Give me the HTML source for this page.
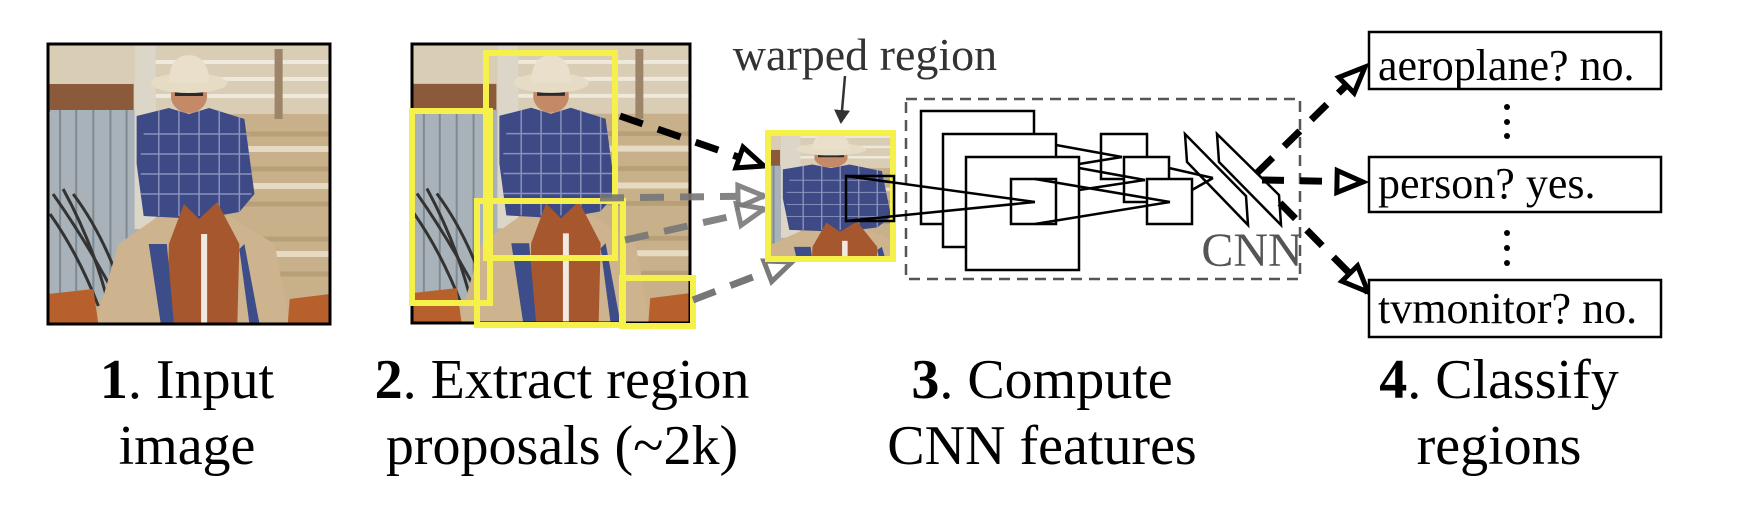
<!DOCTYPE html>
<html><head><meta charset="utf-8"><style>
html,body{margin:0;padding:0;background:#fff;}
body{position:relative;width:1754px;height:506px;overflow:hidden;}
svg{display:block;position:absolute;left:0;top:0;}
svg text{font-family:"Liberation Serif","Times New Roman",Times,serif;}
.cap{position:absolute;font-family:"Liberation Serif","Times New Roman",Times,serif;font-size:56px;line-height:66px;color:#000;text-align:center;white-space:nowrap;width:500px;}
.cap b{font-weight:bold;}
</style></head><body>
<svg width="1754" height="506" viewBox="0 0 1754 506" xmlns="http://www.w3.org/2000/svg">
<defs>
<symbol id="photo" viewBox="0 0 280 280" preserveAspectRatio="none">
  <rect x="0" y="0" width="280" height="280" fill="#c8b08a"/>
  <rect x="0" y="0" width="280" height="70" fill="#d9cdb5"/>
  <g stroke="#efe9dc" stroke-width="4"><line x1="100" y1="18" x2="280" y2="18"/><line x1="100" y1="35" x2="280" y2="35"/><line x1="100" y1="52" x2="280" y2="52"/></g>
  <g stroke="#b79f78" stroke-width="5"><line x1="180" y1="90" x2="280" y2="90"/><line x1="180" y1="125" x2="280" y2="125"/><line x1="190" y1="160" x2="280" y2="160"/><line x1="200" y1="195" x2="280" y2="195"/><line x1="210" y1="230" x2="280" y2="230"/></g>
  <g stroke="#e6dac3" stroke-width="6"><line x1="180" y1="105" x2="280" y2="105"/><line x1="190" y1="142" x2="280" y2="142"/><line x1="200" y1="210" x2="280" y2="210"/></g>
  <rect x="225" y="5" width="8" height="70" fill="#9c8568"/>
  <rect x="0" y="40" width="85" height="28" fill="#8a5a3a"/>
  <rect x="2" y="66" width="85" height="190" fill="#a8b2b8"/>
  <g stroke="#7f8a92" stroke-width="2"><line x1="12" y1="66" x2="12" y2="256"/><line x1="28" y1="66" x2="28" y2="256"/><line x1="45" y1="66" x2="45" y2="256"/><line x1="62" y1="66" x2="62" y2="256"/><line x1="78" y1="66" x2="78" y2="256"/></g>
  <rect x="86" y="0" width="21" height="185" fill="#dcd6c8"/>
  <g stroke="#333" stroke-width="3" fill="none"><path d="M5 150 Q40 200 70 258"/><path d="M15 145 Q45 200 60 260"/><path d="M2 170 Q30 210 50 262"/><path d="M25 150 Q55 190 75 250"/></g>
  <path d="M47 280 L70 200 L110 172 L180 172 L225 200 L240 280 Z" fill="#cdb48f"/>
  <path d="M88 72 L120 64 L140 70 L160 64 L195 75 L205 150 L190 168 L150 175 L95 172 L88 120 Z" fill="#3e4a86"/>
  <g stroke="#aab0d0" stroke-width="1.5" opacity="0.7"><line x1="95" y1="90" x2="200" y2="90"/><line x1="92" y1="110" x2="202" y2="110"/><line x1="92" y1="130" x2="202" y2="130"/><line x1="92" y1="150" x2="202" y2="150"/><line x1="110" y1="66" x2="110" y2="172"/><line x1="130" y1="66" x2="130" y2="172"/><line x1="150" y1="66" x2="150" y2="172"/><line x1="170" y1="66" x2="170" y2="172"/><line x1="190" y1="70" x2="190" y2="168"/></g>
  <ellipse cx="140" cy="52" rx="18" ry="17" fill="#c48a68"/>
  <rect x="126" y="46" width="28" height="6" fill="#2a2a2a"/>
  <ellipse cx="140" cy="39" rx="38" ry="10" fill="#e6dcc6"/>
  <path d="M120 39 Q120 12 140 11 Q160 12 160 39 Z" fill="#e9dfca"/>
  <path d="M118 280 L120 200 L135 160 L150 175 L168 158 L190 200 L188 280 Z" fill="#a6572e"/>
  <rect x="152" y="190" width="6" height="90" fill="#f2e9df"/>
  <path d="M100 200 L112 280 L125 280 L118 200 Z" fill="#3c4d8a"/>
  <path d="M195 200 L210 280 L200 280 L190 205 Z" fill="#3c4d8a"/>
  <path d="M0 250 L45 245 L50 280 L0 280 Z" fill="#b8602c"/>
  <path d="M240 255 L280 250 L280 280 L238 280 Z" fill="#b8602c"/>
</symbol>
<marker id="mb" markerUnits="userSpaceOnUse" markerWidth="40" markerHeight="40" refX="30" refY="14" orient="auto" viewBox="0 0 40 28"><path d="M4 3 L30 14 L4 25 Z" fill="#fff" stroke="#000" stroke-width="5" stroke-linejoin="miter"/></marker>
<marker id="mg" markerUnits="userSpaceOnUse" markerWidth="40" markerHeight="40" refX="30" refY="14" orient="auto" viewBox="0 0 40 28"><path d="M4 3 L30 14 L4 25 Z" fill="#fff" stroke="#7a7a7a" stroke-width="5"/></marker>
<marker id="md" markerUnits="userSpaceOnUse" markerWidth="24" markerHeight="24" refX="12" refY="8" orient="auto" viewBox="0 0 24 16"><path d="M0 0 L14 8 L0 16 Z" fill="#333"/></marker>
</defs>

<use href="#photo" x="48" y="44" width="282" height="280"/>
<rect x="48" y="44" width="282" height="280" fill="none" stroke="#000" stroke-width="3"/>

<use href="#photo" x="412" y="44" width="278" height="279"/>
<rect x="412" y="44" width="278" height="279" fill="none" stroke="#000" stroke-width="3"/>
<g fill="none" stroke="#f5f04a" stroke-width="6">
  <rect x="486" y="53" width="129" height="205"/>
  <rect x="412" y="111" width="78" height="192"/>
  <rect x="477" y="201" width="146" height="124"/>
  <rect x="622" y="278" width="71" height="48"/>
</g>

<line x1="620" y1="116" x2="764" y2="166" stroke="#000" stroke-width="7" stroke-dasharray="24 16" marker-end="url(#mb)"/>
<line x1="600" y1="198" x2="764" y2="196" stroke="#777" stroke-width="7" stroke-dasharray="24 16" marker-end="url(#mg)" opacity="0.9"/>
<line x1="625" y1="240" x2="764" y2="209" stroke="#777" stroke-width="7" stroke-dasharray="24 16" marker-end="url(#mg)" opacity="0.9"/>
<line x1="693" y1="300" x2="792" y2="262" stroke="#777" stroke-width="7" stroke-dasharray="24 16" marker-end="url(#mg)"/>

<svg x="768" y="133" width="125" height="126" viewBox="72 12 135 208" preserveAspectRatio="none"><use href="#photo" x="0" y="0" width="280" height="280"/></svg>
<rect x="768" y="133" width="125" height="126" fill="none" stroke="#f5f04a" stroke-width="6"/>
<text x="865" y="70" font-size="46" fill="#333" text-anchor="middle">warped region</text>
<line x1="845" y1="76" x2="841" y2="122" stroke="#333" stroke-width="2.5" marker-end="url(#md)"/>

<rect x="906" y="99" width="394" height="180" fill="none" stroke="#555" stroke-width="2.5" stroke-dasharray="11 7"/>
<g fill="#fff" stroke="#000" stroke-width="2.5">
  <rect x="921" y="111" width="113" height="113"/>
  <rect x="943" y="134" width="113" height="113"/>
  <rect x="966" y="157" width="113" height="113"/>
  <rect x="1011" y="179" width="45" height="45"/>
  <rect x="1101" y="134" width="46" height="45"/>
  <rect x="1124" y="157" width="45" height="45"/>
  <rect x="1147" y="179" width="45" height="45"/>
</g>
<rect x="846" y="176" width="48" height="45" fill="none" stroke="#000" stroke-width="2.5"/>
<g stroke="#000" stroke-width="2.5" fill="none">
  <line x1="846" y1="176" x2="1035" y2="202"/>
  <line x1="846" y1="221" x2="1035" y2="202"/>
  <line x1="1035" y1="179" x2="1170" y2="202"/>
  <line x1="1035" y1="224" x2="1170" y2="202"/>
  <line x1="1079" y1="168" x2="1145" y2="180"/>
  <line x1="1079" y1="190" x2="1145" y2="180"/>
  <line x1="1056" y1="145" x2="1122" y2="157"/>
  <line x1="1079" y1="164" x2="1122" y2="157"/>
  <line x1="1169" y1="168" x2="1213" y2="178"/>
  <line x1="1192" y1="190" x2="1213" y2="178"/>
  <polygon points="1185,134 1187,162 1248,225 1246,196"/>
  <polygon points="1217,134 1219,162 1281,225 1279,195"/>
</g>
<text x="1252" y="266" font-size="48" fill="#555" text-anchor="middle">CNN</text>

<line x1="1257" y1="173" x2="1365" y2="67" stroke="#000" stroke-width="7" stroke-dasharray="22 16" marker-end="url(#mb)"/>
<line x1="1262" y1="180" x2="1363" y2="182" stroke="#000" stroke-width="7" stroke-dasharray="22 16" marker-end="url(#mb)"/>
<line x1="1280" y1="203" x2="1368" y2="292" stroke="#000" stroke-width="7" stroke-dasharray="22 16" marker-end="url(#mb)"/>

<g fill="#fff" stroke="#000" stroke-width="2.5">
  <rect x="1369" y="32" width="292" height="57"/>
  <rect x="1369" y="157" width="292" height="55"/>
  <rect x="1369" y="280" width="292" height="57"/>
</g>
<g font-size="44" fill="#000">
  <text x="1378" y="80">aeroplane? no.</text>
  <text x="1378" y="198">person? yes.</text>
  <text x="1378" y="323">tvmonitor? no.</text>
</g>
<g fill="#000">
  <circle cx="1507" cy="107" r="3"/><circle cx="1507" cy="122" r="3"/><circle cx="1507" cy="136" r="3"/>
  <circle cx="1507" cy="233" r="3"/><circle cx="1507" cy="248" r="3"/><circle cx="1507" cy="263" r="3"/>
</g>
</svg>

<div class="cap" style="left:-63px;top:347px;"><b>1</b>. Input<br>image</div>
<div class="cap" style="left:312px;top:347px;"><b>2</b>. Extract region<br>proposals (~2k)</div>
<div class="cap" style="left:792px;top:347px;"><b>3</b>. Compute<br>CNN features</div>
<div class="cap" style="left:1249px;top:347px;"><b>4</b>. Classify<br>regions</div>
</body></html>
